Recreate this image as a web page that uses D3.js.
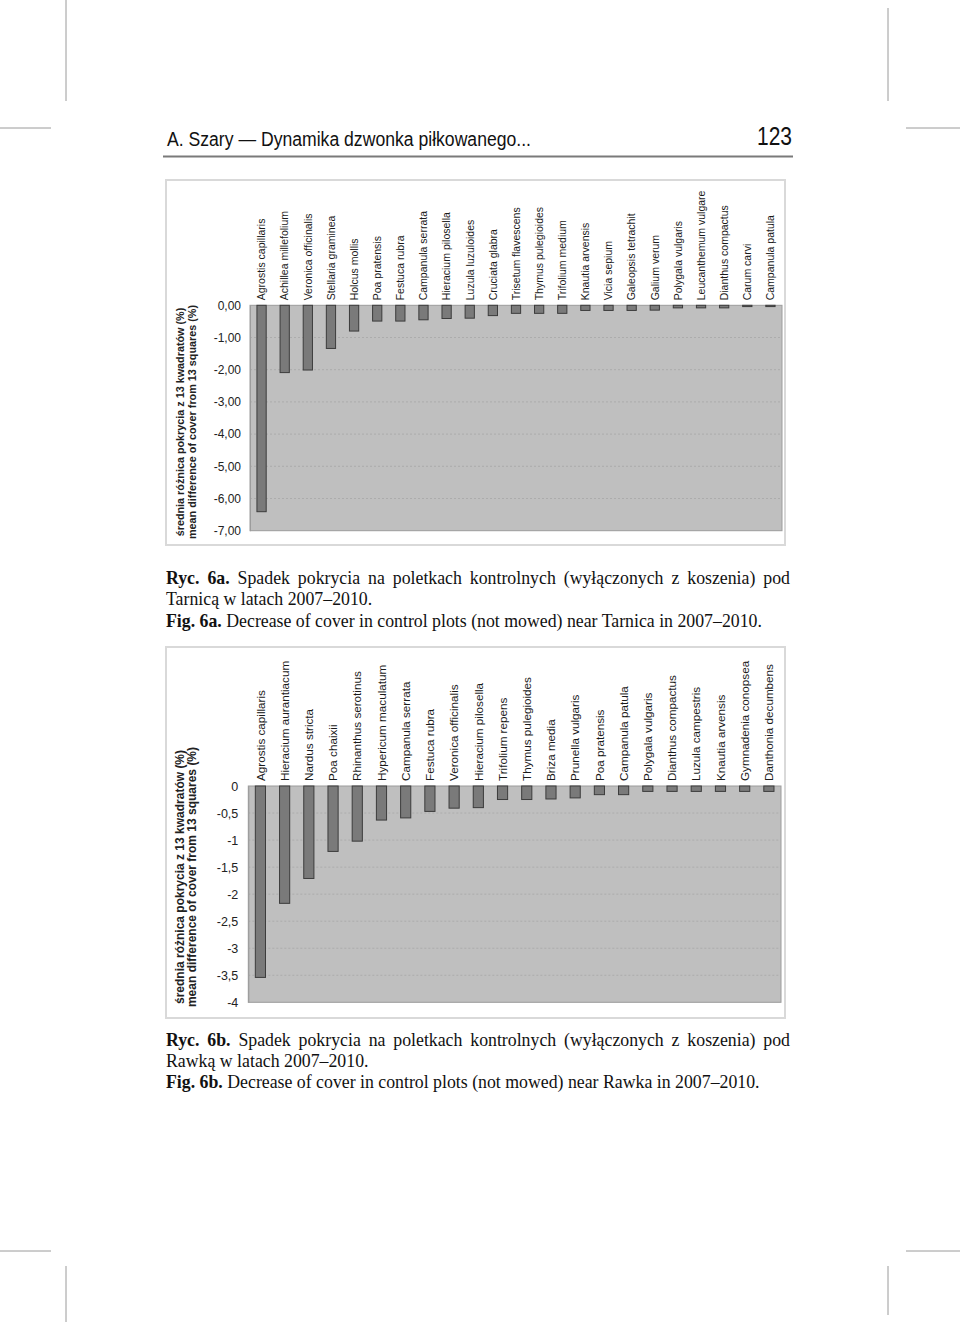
<!DOCTYPE html>
<html><head><meta charset="utf-8">
<script src="https://cdn.jsdelivr.net/npm/d3@7"></script>
<style>body{margin:0;background:#fff}svg{display:block}</style>
</head><body>
<svg id="page" width="960" height="1322"></svg>
<script>
// ---------- DATA ----------
const topCategories = ["Agrostis capillaris","Achillea millefolium","Veronica officinalis","Stellaria graminea","Holcus mollis","Poa pratensis","Festuca rubra","Campanula serrata","Hieracium pilosella","Luzula luzuloides","Cruciata glabra","Trisetum flavescens","Thymus pulegioides","Trifolium medium","Knautia arvensis","Vicia sepium","Galeopsis tetrachit","Galium verum","Polygala vulgaris","Leucanthemum vulgare","Dianthus compactus","Carum carvi","Campanula patula"];
const topValues = [-6.41,-2.09,-2.01,-1.34,-0.80,-0.49,-0.49,-0.45,-0.41,-0.40,-0.32,-0.25,-0.25,-0.25,-0.16,-0.16,-0.16,-0.15,-0.08,-0.08,-0.08,-0.04,-0.04];
const topTicks = [0,-1,-2,-3,-4,-5,-6,-7];

const bottomCategories = ["Agrostis capillaris","Hieracium aurantiacum","Nardus stricta","Poa chaixii","Rhinanthus serotinus","Hypericum maculatum","Campanula serrata","Festuca rubra","Veronica officinalis","Hieracium pilosella","Trifolium repens","Thymus pulegioides","Briza media","Prunella vulgaris","Poa pratensis","Campanula patula","Polygala vulgaris","Dianthus compactus","Luzula campestris","Knautia arvensis","Gymnadenia conopsea","Danthonia decumbens"];
const bottomValues = [-3.54,-2.17,-1.71,-1.21,-1.02,-0.63,-0.59,-0.47,-0.41,-0.40,-0.25,-0.25,-0.24,-0.22,-0.16,-0.16,-0.10,-0.10,-0.10,-0.10,-0.10,-0.10];
const bottomTicks = [0,-0.5,-1,-1.5,-2,-2.5,-3,-3.5,-4];

const yTitleLines = ["średnia różnica pokrycia z 13 kwadratów (%)","mean difference of cover from 13 squares (%)"];
const headerText = "A. Szary — Dynamika dzwonka piłkowanego...";
const pageNumber = "123";
const captionA = [
  [["Ryc. 6a.",true],[" Spadek pokrycia na poletkach kontrolnych (wyłączonych z koszenia) pod",false]],
  [["Tarnicą w latach 2007–2010.",false]],
  [["Fig. 6a.",true],[" Decrease of cover in control plots (not mowed) near Tarnica in 2007–2010.",false]]
];
const captionB = [
  [["Ryc. 6b.",true],[" Spadek pokrycia na poletkach kontrolnych (wyłączonych z koszenia) pod",false]],
  [["Rawką w latach 2007–2010.",false]],
  [["Fig. 6b.",true],[" Decrease of cover in control plots (not mowed) near Rawka in 2007–2010.",false]]
];

// ---------- DRAW ----------
const svg = d3.select("#page");
const plLocale = d3.formatLocale({decimal:",", thousands:" ", grouping:[3], currency:["","zł"], minus:"-"});
const SANS = "Arial, 'Liberation Sans', Helvetica, sans-serif";
const SERIF = "'Times New Roman', 'Liberation Serif', serif";
const NARROW = "'Liberation Sans Narrow', 'Arial Narrow', 'Liberation Sans', sans-serif";

// crop marks
const crop = svg.append("g").attr("stroke","#9a9a9a").attr("stroke-width",1);
[[66,0,66,101],[888,8,888,101],[0,128,51,128],[906,128,960,128],
 [0,1251,51,1251],[906,1251,960,1251],[66,1266,66,1322],[888,1266,888,1315]]
 .forEach(l=>crop.append("line").attr("x1",l[0]).attr("y1",l[1]).attr("x2",l[2]).attr("y2",l[3]));

// header
svg.append("text").attr("x",167).attr("y",146).attr("font-family",NARROW).attr("font-size",20)
  .attr("fill","#111").attr("textLength",364).attr("lengthAdjust","spacingAndGlyphs").text(headerText);
svg.append("text").attr("x",792).attr("y",145).attr("text-anchor","end").attr("font-family",NARROW)
  .attr("font-size",25).attr("fill","#111").attr("textLength",35).attr("lengthAdjust","spacingAndGlyphs").text(pageNumber);
svg.append("line").attr("x1",163).attr("x2",793).attr("y1",156.5).attr("y2",156.5)
  .attr("stroke","#7a7a7a").attr("stroke-width",2);

function drawChart(cfg){
  const g = svg.append("g");
  g.append("rect").attr("x",cfg.frame[0]).attr("y",cfg.frame[1]).attr("width",cfg.frame[2]).attr("height",cfg.frame[3])
    .attr("fill","#fff").attr("stroke","#d9d9d9").attr("stroke-width",2);
  const [px,py,pw,ph] = cfg.plot;
  const x = d3.scaleBand().domain(cfg.categories).range([px,px+pw]).paddingInner(cfg.pad).paddingOuter(cfg.pad/2);
  const y = d3.scaleLinear().domain([d3.min(cfg.ticks),0]).range([py+ph,py]);
  g.append("rect").attr("x",px).attr("y",py).attr("width",pw).attr("height",ph)
    .attr("fill","#bfbfbf").attr("stroke","#9c9c9c").attr("stroke-width",1);
  // gridlines
  g.append("g").selectAll("line").data(cfg.ticks.filter(t=>t!==0 && t!==d3.min(cfg.ticks))).join("line")
    .attr("x1",px).attr("x2",px+pw).attr("y1",d=>y(d)).attr("y2",d=>y(d))
    .attr("stroke","#acacac").attr("stroke-width",1).attr("stroke-dasharray","2,2");
  // axis
  const ax = g.append("g").attr("transform",`translate(${px},0)`)
    .call(d3.axisLeft(y).tickValues(cfg.ticks).tickSize(0).tickPadding(cfg.tickPad).tickFormat(cfg.fmt));
  ax.select(".domain").attr("stroke","#9c9c9c");
  ax.selectAll("text").attr("font-family",SANS).attr("font-size",cfg.tickFont).attr("fill","#222");
  // bars
  const data = cfg.categories.map((c,i)=>({c,v:cfg.values[i]}));
  g.append("g").selectAll("rect").data(data).join("rect")
    .attr("x",d=>x(d.c)).attr("width",x.bandwidth())
    .attr("y",y(0)).attr("height",d=>y(d.v)-y(0))
    .attr("fill","#7a7a7a").attr("stroke","#3c3c3c").attr("stroke-width",1);
  // category labels
  g.append("g").selectAll("text").data(cfg.categories).join("text")
    .attr("transform",d=>`translate(${x(d)+x.bandwidth()/2},${py-cfg.labelGap}) rotate(-90)`)
    .attr("dy","0.36em").attr("font-family",SANS).attr("font-size",cfg.catFont).attr("fill","#1a1a1a").text(d=>d);
  // y title
  yTitleLines.forEach((t,i)=>{
    g.append("text").attr("transform",`translate(${cfg.titleX[i]},${cfg.titleY}) rotate(-90)`)
      .attr("text-anchor","middle").attr("font-family",SANS).attr("font-weight","bold")
      .attr("font-size",cfg.titleFont).attr("fill","#222").text(t);
  });
}

drawChart({frame:[166,180,619,365], plot:[250,305.3,532,225.4], categories:topCategories, values:topValues,
  ticks:topTicks, fmt:plLocale.format(".2f"), pad:0.6, tickPad:9, tickFont:12, catFont:10.5,
  labelGap:5, titleX:[184,196], titleY:422, titleFont:10.8});
drawChart({frame:[166,647,619,371], plot:[248.3,786,532.7,216.3], categories:bottomCategories, values:bottomValues,
  ticks:bottomTicks, fmt:plLocale.format(""), pad:0.58, tickPad:10, tickFont:12.5, catFont:11.7,
  labelGap:5, titleX:[184,196], titleY:877, titleFont:12});

// captions
function caption(lines, baselines, width){
  lines.forEach((parts,i)=>{
    const t = svg.append("text").attr("x",166).attr("y",baselines[i]).attr("font-family",SERIF)
      .attr("font-size",17.8).attr("fill","#111");
    parts.forEach(p=>t.append("tspan").attr("font-weight",p[1]?"bold":"normal").text(p[0]));
    if(i===0){
      const len = t.node().getComputedTextLength();
      const full = parts.map(p=>p[0]).join("");
      const spaces = (full.match(/ /g)||[]).length;
      t.attr("word-spacing",Math.max(0,(width-len)/spaces));
    }
  });
}
caption(captionA,[584,605,627],624);
caption(captionB,[1046,1067,1088],624);
</script>
</body></html>
